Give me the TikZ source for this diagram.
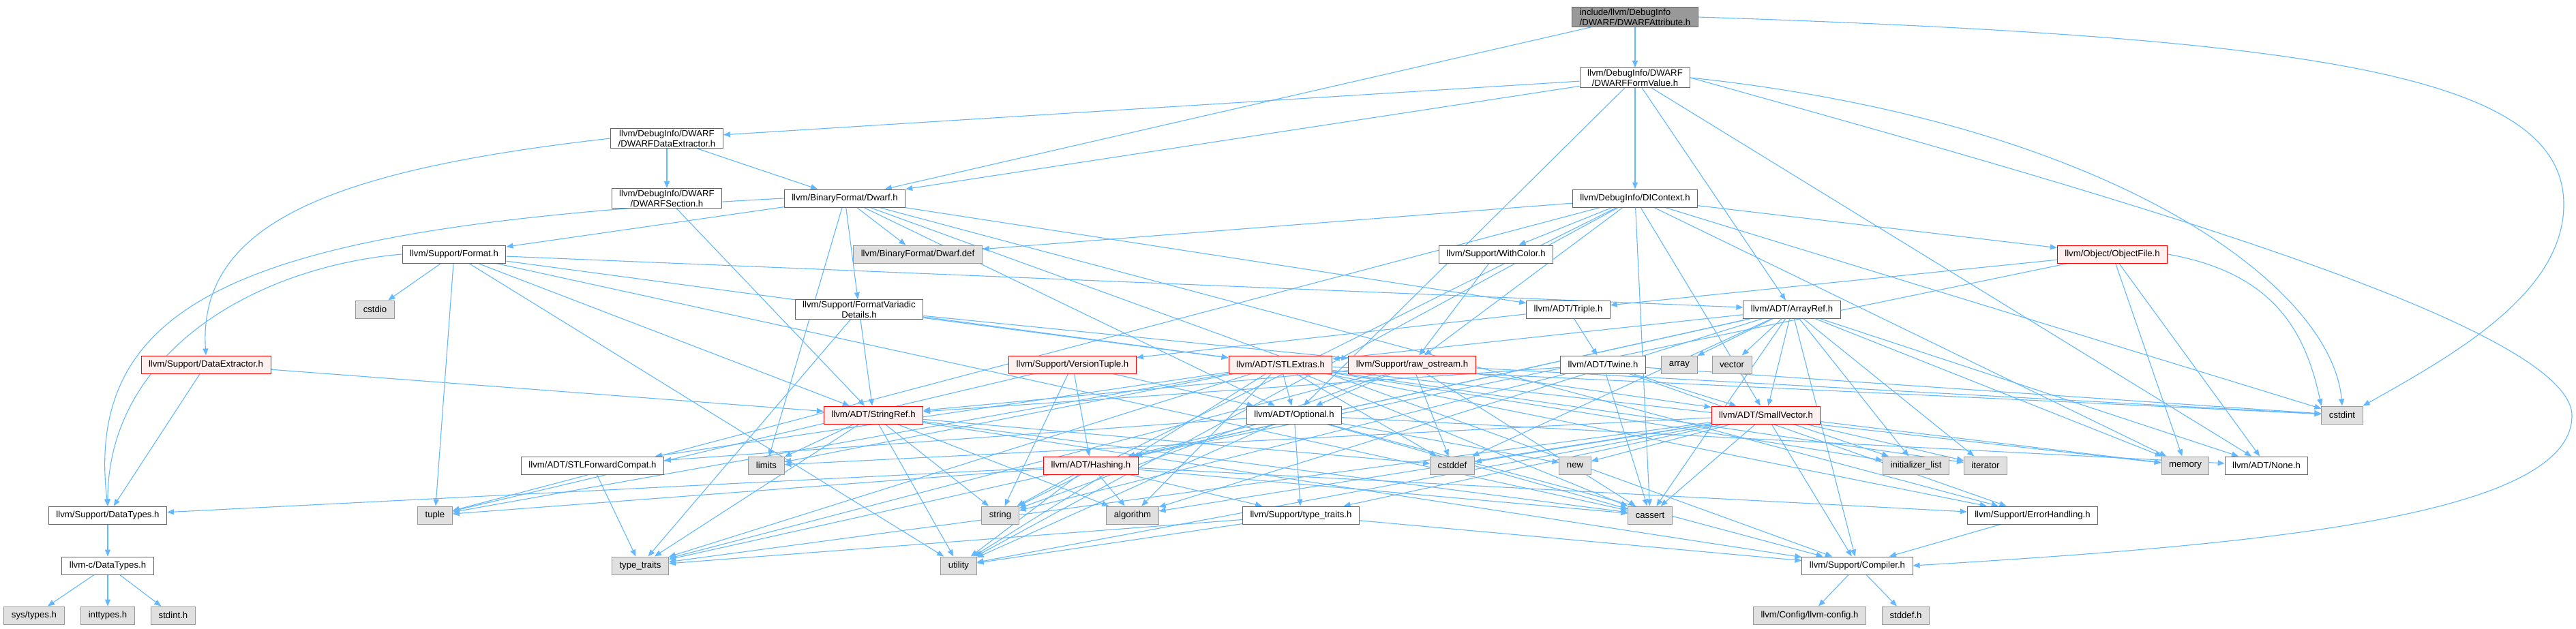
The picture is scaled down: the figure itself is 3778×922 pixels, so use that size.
\documentclass[tikz,border=0pt]{standalone}
\usepackage{fontspec}
\setmainfont{Liberation Sans}
\usetikzlibrary{arrows.meta, backgrounds}
\definecolor{edge}{HTML}{63B8FF}
\definecolor{frame}{HTML}{666666}
\definecolor{sysline}{HTML}{999999}
\definecolor{sysfill}{HTML}{E0E0E0}
\definecolor{trfill}{HTML}{FFF0F0}
\definecolor{rootfill}{HTML}{999999}

\begin{document}
\begin{tikzpicture}[x=1pt, y=-1pt, font=\fontsize{13.2}{15}\selectfont,
    hdr/.style={draw=frame, fill=white, line width=1pt, minimum height=26pt, inner xsep=11pt, inner ysep=2pt, align=center},
    sys/.style={hdr, draw=sysline, fill=sysfill},
    trunc/.style={hdr, draw=red, fill=trfill},
    top/.style={hdr, fill=rootfill, align=left},
    dep/.style={draw=edge, line width=1.1pt, -{Triangle[length=10pt,width=8pt]}}]
  \useasboundingbox (0,0) rectangle (3778,922);
  % first ranks
  \node[top] (root) at (2398,25) {include/llvm/DebugInfo\\/DWARF/DWARFAttribute.h};
  \node[hdr] (fv) at (2398,114) {llvm/DebugInfo/DWARF\\/DWARFFormValue.h};
  \node[hdr] (dwde) at (978,203) {llvm/DebugInfo/DWARF\\/DWARFDataExtractor.h};
  \node[hdr] (dwsec) at (978,291) {llvm/DebugInfo/DWARF\\/DWARFSection.h};
  \node[hdr] (dwarfh) at (1239,291) {llvm/BinaryFormat/Dwarf.h};
  \node[hdr] (dictx) at (2398,291) {llvm/DebugInfo/DIContext.h};
  \node[sys] (dwdef) at (1346,373) {llvm/BinaryFormat/Dwarf.def};
  \node[hdr] (fmt) at (666,373) {llvm/Support/Format.h};
  \node[hdr] (wcol) at (2194,373) {llvm/Support/WithColor.h};
  \node[trunc] (objf) at (3098,373) {llvm/Object/ObjectFile.h};
  \node[sys] (cstdio) at (550,454) {cstdio};
  \node[hdr] (fvd) at (1260,454) {llvm/Support/FormatVariadic\\Details.h};
  \node[hdr] (triple) at (2300,454) {llvm/ADT/Triple.h};
  \node[hdr] (aref) at (2628,454) {llvm/ADT/ArrayRef.h};
  % middle ranks
  \node[trunc] (dext) at (302,535) {llvm/Support/DataExtractor.h};
  \node[trunc] (vtup) at (1573,535) {llvm/Support/VersionTuple.h};
  \node[trunc] (stlx) at (1878,535) {llvm/ADT/STLExtras.h};
  \node[trunc] (rawos) at (2071,535) {llvm/Support/raw\_ostream.h};
  \node[hdr] (twine) at (2351,535) {llvm/ADT/Twine.h};
  \node[sys] (array) at (2463,535) {array};
  \node[sys] (vector) at (2540,535) {vector};
  \node[trunc] (sref) at (1281,609) {llvm/ADT/StringRef.h};
  \node[hdr] (opt) at (1898,609) {llvm/ADT/Optional.h};
  \node[trunc] (svec) at (2590,609) {llvm/ADT/SmallVector.h};
  \node[sys] (cstdint) at (3435,609) {cstdint};
  \node[hdr] (stlfc) at (869,683) {llvm/ADT/STLForwardCompat.h};
  \node[sys] (limits) at (1124,683) {limits};
  \node[trunc] (hash) at (1600,683) {llvm/ADT/Hashing.h};
  \node[sys] (cstddef) at (2130,683) {cstddef};
  \node[sys] (new) at (2310,683) {new};
  \node[sys] (initl) at (2810,683) {initializer\_list};
  \node[sys] (iter) at (2912,683) {iterator};
  \node[sys] (memory) at (3205,683) {memory};
  \node[hdr] (none) at (3324,683) {llvm/ADT/None.h};
  % lower ranks
  \node[hdr] (dtypes) at (158,756) {llvm/Support/DataTypes.h};
  \node[sys] (tuple) at (638,756) {tuple};
  \node[sys] (string) at (1467,756) {string};
  \node[sys] (algo) at (1661,756) {algorithm};
  \node[hdr] (sttr) at (1908,756) {llvm/Support/type\_traits.h};
  \node[sys] (cassert) at (2420,756) {cassert};
  \node[hdr] (errh) at (2981,756) {llvm/Support/ErrorHandling.h};
  \node[hdr] (cdtypes) at (158,830) {llvm-c/DataTypes.h};
  \node[sys] (tytr) at (939,830) {type\_traits};
  \node[sys] (utility) at (1406,830) {utility};
  \node[hdr] (comp) at (2724,830) {llvm/Support/Compiler.h};
  \node[sys] (systypes) at (50,903) {sys/types.h};
  \node[sys] (inttypes) at (158,903) {inttypes.h};
  \node[sys] (stdinth) at (254,903) {stdint.h};
  \node[sys] (llcfg) at (2654,903) {llvm/Config/llvm-config.h};
  \node[sys] (stddefh) at (2795,903) {stddef.h};

  \begin{scope}[on background layer]
    % long curved includes
    \draw[dep] (root.east) .. controls (3400,55) and (3760,110) .. (3760,300) .. controls (3760,430) and (3600,520) .. (cstdint.north east);
    \draw[dep] (fv.east) .. controls (3000,260) and (3772,470) .. (3772,610) .. controls (3772,760) and (3300,800) .. (comp.east);
    \draw[dep] (fv.east) .. controls (3100,180) and (3420,420) .. (cstdint.north);
    \draw[dep] (dwde.west) .. controls (480,250) and (290,330) .. (dext.north);
    \draw[dep] (dwarfh.west) .. controls (400,330) and (120,420) .. (dtypes.north);
    \draw[dep] (fmt.west) to[out=185, in=90] (dtypes.north);
    \draw[dep] (objf.east) .. controls (3330,400) and (3380,480) .. (cstdint.north west);
    % plain includes
    \foreach \t in {fv, dwarfh} \draw[dep] (root) -- (\t);
    \foreach \t in {dwde, dwarfh, dictx, aref, none, opt} \draw[dep] (fv) -- (\t);
    \foreach \t in {dwsec, dwarfh} \draw[dep] (dwde) -- (\t);
    \draw[dep] (dwsec) -- (sref);
    \foreach \t in {fmt, dwdef, fvd, triple, comp, errh, opt, limits} \draw[dep] (dwarfh) -- (\t);
    \foreach \t in {wcol, objf, rawos, svec, cassert, cstdint, memory, string, tuple, utility, dwdef} \draw[dep] (dictx) -- (\t);
    \foreach \t in {cstdio, aref, stlx, sref, cassert, tuple, utility} \draw[dep] (fmt) -- (\t);
    \draw[dep] (wcol) -- (rawos);
    \foreach \t in {triple, hash, memory, none} \draw[dep] (objf) -- (\t);
    \foreach \t in {sref, stlx, rawos, tytr} \draw[dep] (fvd) -- (\t);
    \foreach \t in {twine, vtup} \draw[dep] (triple) -- (\t);
    \foreach \t in {hash, none, stlx, svec, comp, algo, array, cassert, cstddef, initl, iter, memory, tytr, vector} \draw[dep] (aref) -- (\t);
    \foreach \t in {sref, dtypes} \draw[dep] (dext) -- (\t);
    \foreach \t in {hash, opt, string, tuple} \draw[dep] (vtup) -- (\t);
    \foreach \t in {opt, stlfc, errh, algo, cassert, cstddef, cstdint, initl, iter, limits, memory, tuple, tytr, utility} \draw[dep] (stlx) -- (\t);
    \foreach \t in {svec, sref, opt, cassert, cstddef, cstdint, string, tytr} \draw[dep] (rawos) -- (\t);
    \foreach \t in {svec, sref, errh, cassert, cstdint, string} \draw[dep] (twine) -- (\t);
    \foreach \t in {comp, algo, cassert, cstddef, limits, string, tytr, utility} \draw[dep] (sref) -- (\t);
    \foreach \t in {hash, none, stlfc, comp, sttr, cassert, new, utility} \draw[dep] (opt) -- (\t);
    \foreach \t in {comp, sttr, algo, cassert, cstddef, initl, iter, limits, memory, new, tytr, utility} \draw[dep] (svec) -- (\t);
    \foreach \t in {dtypes, errh, sttr, algo, cassert, string, tuple, utility} \draw[dep] (hash) -- (\t);
    \draw[dep] (stlfc) -- (tytr);
    \foreach \t in {comp, tytr, utility} \draw[dep] (sttr) -- (\t);
    \draw[dep] (errh) -- (comp);
    \foreach \t in {llcfg, stddefh} \draw[dep] (comp) -- (\t);
    \draw[dep] (dtypes) -- (cdtypes);
    \foreach \t in {systypes, inttypes, stdinth} \draw[dep] (cdtypes) -- (\t);
  \end{scope}
\end{tikzpicture}
\end{document}
